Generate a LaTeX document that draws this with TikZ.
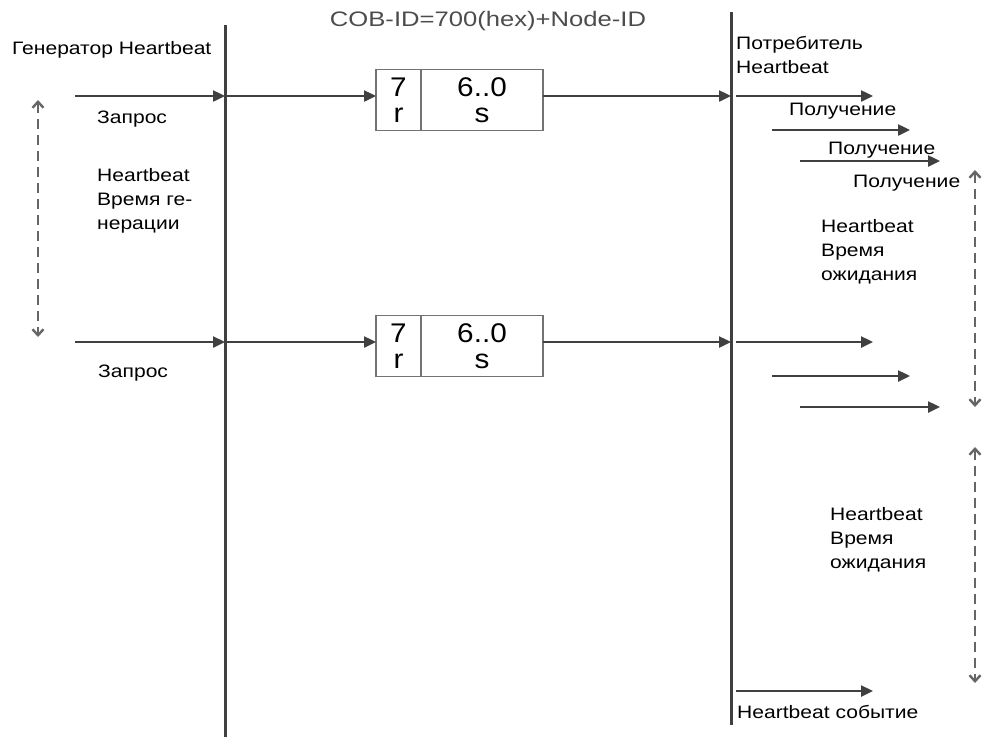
\documentclass[tikz,border=0pt]{standalone}
\usepackage{fontspec}
\setmainfont[FakeStretch=1.17]{Liberation Sans}
\newfontfamily\titlefont[FakeStretch=1.22]{Liberation Sans}
\newfontfamily\bitfont[FakeStretch=1.1]{Liberation Sans}
\usetikzlibrary{arrows.meta, positioning, calc}

\begin{document}
\begin{tikzpicture}[x=1pt, y=-1pt,
			lifeline/.style={draw=black!75, line width=3pt},
			msg/.style={-{Triangle[length=12pt,width=11pt]}, draw=black!75, line width=2.4pt},
			period/.style={{Straight Barb[length=6pt,width=11pt]}-{Straight Barb[length=6pt,width=11pt]}, draw=black!60, line width=2.4pt, dash pattern=on 10pt off 6pt},
			bitbox/.style={draw=black!55, line width=1.8pt, minimum height=61pt, inner sep=0pt, outer sep=0pt, align=center, font=\bitfont\fontsize{27}{26}\selectfont},
			label/.style={font=\fontsize{18}{24}\selectfont, align=left, inner sep=0pt, anchor=base west}
			]
			
			% 0. Canvas
			\useasboundingbox (0,0) rectangle (982,737);
			
			% 1. Producer and consumer lifelines
			\coordinate (genTop) at (225,25);
			\coordinate (genBot) at (225,737);
			\coordinate (conTop) at (731,12);
			\coordinate (conBot) at (731,725);
			\draw[lifeline] (genTop) -- (genBot);
			\draw[lifeline] (conTop) -- (conBot);
			
			% (base of a two- or three-line label = its last line)
			\node[label] (genLabel) at (12,54) {Генератор Heartbeat};
			\node[label] (conLabel) at (736,73) {Потребитель\\Heartbeat};
			\node[font=\titlefont\fontsize{21}{21}\selectfont, text=black!70, inner sep=0pt, anchor=base] (cobid) at (488,26) {COB-ID=700(hex)+Node-ID};
			
			% 2. Heartbeat messages
			\foreach \r/\y in {1/96, 2/342} {
				\coordinate (req\r) at (75,\y);
				\coordinate (gen\r) at (225,\y);
				\coordinate (con\r) at (731,\y);
				\node[bitbox, minimum width=45pt, anchor=west] (rbit\r) at (376,\y+4) {7\\r};
				\node[bitbox, minimum width=122pt, anchor=west] (sbit\r) at (rbit\r.east) {6..0\\s};
				\draw[msg] (req\r) -- (gen\r);
				\draw[msg] (gen\r) -- (gen\r -| rbit\r.west);
				\draw[msg] (gen\r -| sbit\r.east) -- (con\r);
				% received by the consumers
				\foreach \k/\x/\dy/\xe in {a/736/0/873, b/772/34/910, c/800/65/940} {
					\coordinate (rec\k\r) at (\x,\y+\dy);
					\coordinate (recEnd\k\r) at (\xe,\y+\dy);
					\draw[msg] (rec\k\r) -- (recEnd\k\r);
				}
			}
			
			\node[label] (req1Label) at (97,123) {Запрос};
			\node[label] (req2Label) at (98,377) {Запрос};
			\node[label] (recaLabel) at (789,115) {Получение};
			\node[label] (recbLabel) at (828,154) {Получение};
			\node[label] (reccLabel) at (853,187) {Получение};
			
			% 3. Producer time and consumer time
			\coordinate (genPerTop) at (38,100);
			\coordinate (genPerBot) at (38,337);
			\draw[period] (genPerTop) -- (genPerBot);
			\node[label] (genTime) at (97,229) {Heartbeat\\Время ге-\\нерации};
			
			\coordinate (conPerTop1) at (975,170);
			\coordinate (conPerBot1) at (975,407);
			\draw[period] (conPerTop1) -- (conPerBot1);
			\node[label] (conTime1) at (821,280) {Heartbeat\\Время\\ожидания};
			
			\coordinate (conPerTop2) at (975,447);
			\coordinate (conPerBot2) at (975,683);
			\draw[period] (conPerTop2) -- (conPerBot2);
			\node[label] (conTime2) at (830,568) {Heartbeat\\Время\\ожидания};
			
			% 4. Heartbeat event
			\coordinate (evtStart) at (736,691);
			\coordinate (evtEnd) at (873,691);
			\draw[msg] (evtStart) -- (evtEnd);
			\node[label] (evtLabel) at (737,718) {Heartbeat событие};
			
		\end{tikzpicture}
\end{document}
